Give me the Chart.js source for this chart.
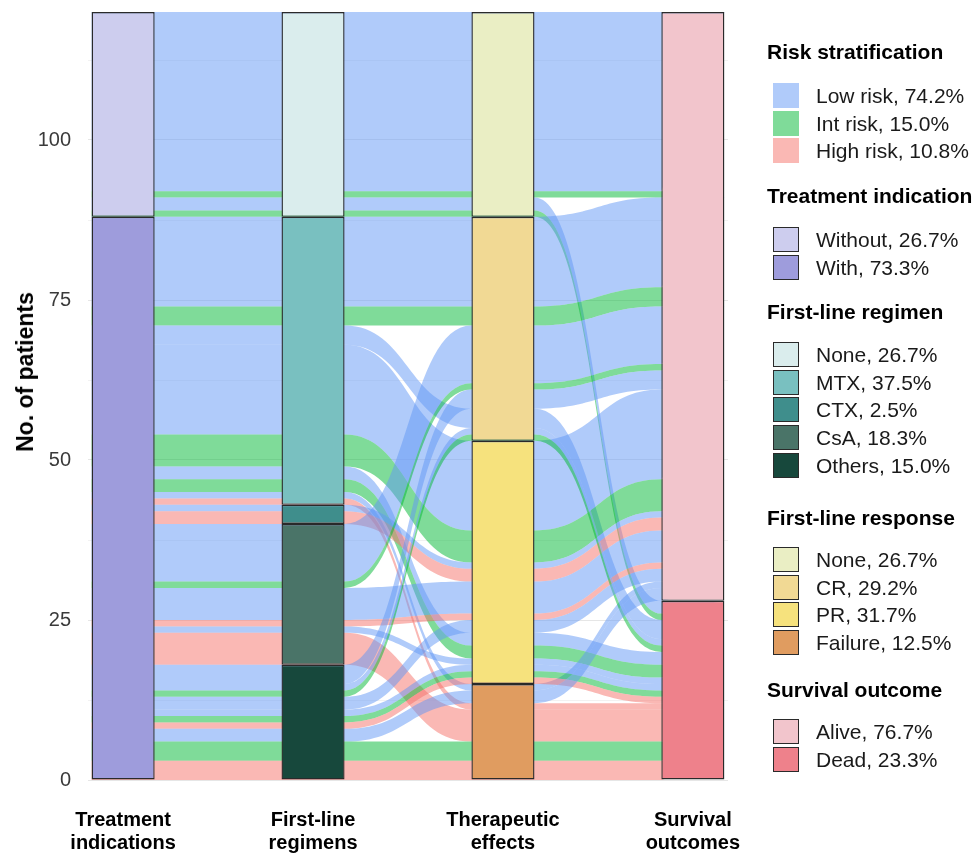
<!DOCTYPE html>
<html><head><meta charset="utf-8">
<script src="https://cdn.jsdelivr.net/npm/chart.js@4"></script>
<style>
html,body{margin:0;padding:0;background:#fff;overflow:hidden;}
#wrap{position:relative;width:973px;height:856px;overflow:hidden;font-family:"Liberation Sans",Arial,sans-serif;}
#c{position:absolute;left:0;top:0;}
.lg-title{position:absolute;left:767px;font-weight:bold;font-size:21px;color:#000;white-space:nowrap;line-height:24px;}
.lg-sw{position:absolute;left:773px;width:26px;height:25px;box-sizing:border-box;}
.lg-tx{position:absolute;left:816px;font-size:21px;color:#1a1a1a;white-space:nowrap;line-height:25px;}
#ytitle{position:absolute;left:25px;top:372px;transform:translate(-50%,-50%) rotate(-90deg);font-weight:bold;font-size:23px;color:#000;white-space:nowrap;line-height:26px;}
</style></head>
<body><div id="wrap"><canvas id="c" width="973" height="856"></canvas><div id="ytitle"></div><div id="legend"></div></div>
<script>
// ---------------- data ----------------
const axisLabels = [["Treatment","indications"],["First-line","regimens"],["Therapeutic","effects"],["Survival","outcomes"]];
const yAxisTitle = "No. of patients";
const indicationLevels = ["Without","With"];
const regimenLevels = ["None","MTX","CTX","CsA","Others"];
const effectLevels = ["None","CR","PR","Failure"];
const outcomeLevels = ["Alive","Dead"];
const riskLevels = ["Low","Int","High"];
const legendTitles = ["Risk stratification","Treatment indication","First-line regimen","First-line response","Survival outcome"];
const yTicks = [0,25,50,75,100];

// one entry per alluvium (group of patients sharing a path and a risk level)
const alluviumIndication = ["Without","Without","Without","Without",
  "With","With","With","With","With","With","With","With","With",
  "With","With",
  "With","With","With","With","With","With",
  "With","With","With","With","With","With","With","With","With","With"];
const alluviumRegimen = ["None","None","None","None",
  "MTX","MTX","MTX","MTX","MTX","MTX","MTX","MTX","MTX",
  "CTX","CTX",
  "CsA","CsA","CsA","CsA","CsA","CsA",
  "Others","Others","Others","Others","Others","Others","Others","Others","Others","Others"];
const alluviumEffect = ["None","None","None","None",
  "CR","CR","CR","PR","PR","PR","PR","Failure","Failure",
  "PR","PR",
  "CR","CR","PR","PR","PR","Failure",
  "CR","CR","CR","PR","PR","PR","PR","Failure","Failure","Failure"];
const alluviumOutcome = ["Alive","Alive","Dead","Dead",
  "Alive","Alive","Dead","Alive","Alive","Dead","Dead","Alive","Dead",
  "Alive","Alive",
  "Alive","Alive","Alive","Alive","Dead","Dead",
  "Alive","Dead","Dead","Alive","Dead","Dead","Dead","Alive","Dead","Dead"];
const alluviumRisk = ["Low","Int","Low","Int",
  "Low","Int","Low","Low","Int","Low","Int","Low","High",
  "Low","High",
  "Low","Int","Low","High","Low","High",
  "Low","Low","Int","Low","Low","Int","High","Low","Int","High"];
const alluviumCount = [28,1,2,1,
  14,3,3,14,5,2,2,1,1,
  1,2,
  9,1,5,1,1,5,
  3,1,1,2,1,1,1,2,3,3];

// ---------------- styles ----------------
const riskFill = ["rgba(98,152,245,0.5)","rgba(0,184,52,0.5)","rgba(245,114,106,0.5)"];
const indicationColors = ["#CDCDEE","#9E9CDC"];
const regimenColors = ["#DAEDED","#79C0C0","#3F8E8C","#4A7468","#17483C"];
const effectColors = ["#EAEEC4","#F1D994","#F6E27D","#E09C60"];
const outcomeColors = ["#F2C5CC","#EE818B"];

// ---------------- layout of lodes (ggalluvial-like zigzag ordering) ----------------
const dims = [alluviumIndication, alluviumRegimen, alluviumEffect, alluviumOutcome];
const levels = [indicationLevels, regimenLevels, effectLevels, outcomeLevels];
const levelColors = [indicationColors, regimenColors, effectColors, outcomeColors];
const axisPriority = [[0,1,2,3],[1,0,2,3],[2,3,1,0],[3,2,1,0]];
const N = alluviumCount.length;
const total = alluviumCount.reduce((a,b)=>a+b,0);
const lv = (d,i) => levels[d].indexOf(dims[d][i]);
const rk = i => riskLevels.indexOf(alluviumRisk[i]);
const lodes = axisPriority.map(pr => {
  const idx = [...Array(N).keys()].sort((a,b)=>{
    for (const d of pr){ const c = lv(d,a)-lv(d,b); if (c) return c; }
    return rk(a)-rk(b) || a-b;
  });
  const out = new Array(N); let top = total;
  idx.forEach(i => { out[i] = {hi: top, lo: top - alluviumCount[i]}; top -= alluviumCount[i]; });
  return out;
});

const strataData = [], strataColors = [];
levels.forEach((lvls, a) => {
  lvls.forEach((L, k) => {
    let lo = Infinity, hi = -Infinity;
    for (let i = 0; i < N; i++) if (dims[a][i] === L) { lo = Math.min(lo, lodes[a][i].lo); hi = Math.max(hi, lodes[a][i].hi); }
    if (hi > lo) { strataData.push({x: a + 1, y: [lo, hi]}); strataColors.push(levelColors[a][k]); }
  });
});

// ---------------- flows plugin ----------------
const flowPlugin = {
  id: 'flows',
  beforeDatasetsDraw(chart) {
    const ctx = chart.ctx, xs = chart.scales.x, ys = chart.scales.y;
    const bw = chart.getDatasetMeta(0).data[0].width;
    const ca = chart.chartArea;
    ctx.save();
    ctx.beginPath(); ctx.rect(ca.left, ca.top, ca.right - ca.left, ca.bottom - ca.top); ctx.clip();
    for (let i = 0; i < N; i++) {
      const pts = lodes.map((l, a) => ({x: xs.getPixelForValue(a + 1), t: ys.getPixelForValue(l[i].hi), b: ys.getPixelForValue(l[i].lo)}));
      ctx.beginPath();
      ctx.moveTo(pts[0].x - bw/2, pts[0].t);
      for (let a = 0; a < pts.length; a++) {
        const p = pts[a];
        ctx.lineTo(p.x + bw/2, p.t);
        if (a < pts.length - 1) {
          const q = pts[a+1], x0 = p.x + bw/2, x1 = q.x - bw/2, k = (x1 - x0) * 0.5;
          ctx.bezierCurveTo(x0 + k, p.t, x1 - k, q.t, x1, q.t);
        }
      }
      for (let a = pts.length - 1; a >= 0; a--) {
        const p = pts[a];
        ctx.lineTo(p.x - bw/2, p.b);
        if (a > 0) {
          const q = pts[a-1], x0 = p.x - bw/2, x1 = q.x + bw/2, k = (x0 - x1) * 0.5;
          ctx.bezierCurveTo(x0 - k, p.b, x1 + k, q.b, x1, q.b);
        }
      }
      ctx.closePath();
      ctx.fillStyle = riskFill[rk(i)];
      ctx.fill();
    }
    ctx.restore();
  }
};

Chart.defaults.font.family = "'Liberation Sans', Arial, sans-serif";
new Chart(document.getElementById('c'), {
  type: 'bar',
  data: { datasets: [{
    data: strataData, backgroundColor: strataColors, borderColor: '#2a2a2a', borderWidth: 1.4,
    borderSkipped: false, barPercentage: 0.332, categoryPercentage: 1, grouped: false
  }]},
  options: {
    responsive: false, animation: false,
    layout: {padding: {left: 0, right: 245, top: 12, bottom: 0}},
    plugins: {legend: {display: false}, tooltip: {enabled: false}},
    scales: {
      x: {
        type: 'linear', min: 0.815, max: 4.185, offset: false,
        afterBuildTicks: s => { s.ticks = axisLabels.map((_, i) => ({value: i + 1})); },
        afterFit: s => { s.height = 76; s.paddingLeft = 0; s.paddingRight = 0; },
        grid: {display: false, offset: false}, border: {display: false},
        ticks: {callback: v => axisLabels[v - 1], font: {size: 20, weight: 'bold', lineHeight: 1.15}, color: '#000', padding: 21, autoSkip: false, maxRotation: 0, minRotation: 0}
      },
      y: {
        min: 0, max: 120,
        afterBuildTicks: s => {
          const t = [];
          for (let i = 0; i < yTicks.length; i++) { t.push({value: yTicks[i]}); if (i < yTicks.length - 1) t.push({value: (yTicks[i] + yTicks[i+1]) / 2}); }
          t.push({value: yTicks[yTicks.length-1] + (yTicks[1]-yTicks[0]) / 2});
          s.ticks = t;
        },
        afterFit: s => { s.width = 88; s.paddingTop = 0; s.paddingBottom = 0; },
        grid: {drawTicks: false, color: c => (yTicks.includes(c.tick.value) ? '#e6e6e6' : '#f2f2f2'), lineWidth: 1},
        border: {display: false},
        ticks: {callback: v => (yTicks.includes(v) ? String(v) : ''), font: {size: 20}, color: '#3a3a3a', padding: 17},
        title: {display: false}
      }
    }
  },
  plugins: [flowPlugin]
});
document.getElementById('ytitle').textContent = yAxisTitle;

// ---------------- legend (HTML) ----------------
const pct = n => (100 * n / total).toFixed(1) + '%';
const countBy = (arr, L) => arr.reduce((s, v, i) => s + (v === L ? alluviumCount[i] : 0), 0);
const legendGroups = [
  {labels: riskLevels.map(r => r + ' risk, ' + pct(countBy(alluviumRisk, r))), colors: riskFill, border: false, titleY: 40, top: 83},
  {labels: indicationLevels.map(L => L + ', ' + pct(countBy(alluviumIndication, L))), colors: indicationColors, border: true, titleY: 184, top: 227},
  {labels: regimenLevels.map(L => L + ', ' + pct(countBy(alluviumRegimen, L))), colors: regimenColors, border: true, titleY: 300, top: 342},
  {labels: effectLevels.map(L => L + ', ' + pct(countBy(alluviumEffect, L))), colors: effectColors, border: true, titleY: 506, top: 547},
  {labels: outcomeLevels.map(L => L + ', ' + pct(countBy(alluviumOutcome, L))), colors: outcomeColors, border: true, titleY: 678, top: 719}
];
const lg = document.getElementById('legend');
legendGroups.forEach((g, gi) => {
  const t = document.createElement('div'); t.className = 'lg-title'; t.style.top = g.titleY + 'px'; t.textContent = legendTitles[gi]; lg.appendChild(t);
  g.labels.forEach((lab, k) => {
    const y = g.top + k * 27.7;
    const sw = document.createElement('div'); sw.className = 'lg-sw'; sw.style.top = y + 'px';
    sw.style.background = g.colors[k]; if (g.border) sw.style.border = '1.5px solid #2a2a2a';
    lg.appendChild(sw);
    const tx = document.createElement('div'); tx.className = 'lg-tx'; tx.style.top = y + 'px'; tx.textContent = lab; lg.appendChild(tx);
  });
});
</script></body></html>
